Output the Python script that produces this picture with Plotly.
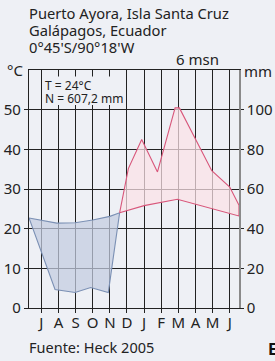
import plotly.graph_objects as go

# ---- data ----
month_labels = ["J", "A", "S", "O", "N", "D", "J", "F", "M", "A", "M", "J"]
month_pos = list(range(12))

# arid period (temperature above precipitation curve)
arid_temp_x = [-0.72, 0.90, 1.97, 3.00, 4.00, 4.57]
arid_temp_c = [22.7, 21.4, 21.5, 22.2, 23.1, 24.0]
arid_prec_x = [-0.72, 0.80, 1.97, 2.88, 3.91, 4.57]
arid_prec_mm = [45.4, 9.3, 7.8, 10.3, 7.8, 48.0]

# humid period (precipitation above temperature curve)
humid_prec_x = [4.57, 5.08, 5.86, 6.78, 7.81, 8.06, 9.95, 11.00, 11.54]
humid_prec_mm = [48.0, 70.3, 85.0, 68.6, 100.9, 100.9, 69.2, 61.0, 51.8]
humid_temp_x = [4.57, 6.00, 7.94, 11.54]
humid_temp_c = [24.0, 25.8, 27.4, 23.2]

temp_ticks = [0, 10, 20, 30, 40, 50]
prec_ticks = [0, 20, 40, 60, 80, 100]
MM_PER_C = 2  # Walter-Lieth scale: 10 °C = 20 mm

title_lines = ["Puerto Ayora, Isla Santa Cruz", "Galápagos, Ecuador", "0°45'S/90°18'W"]

# ---- layout geometry ----
W, H = 275, 361
L, R, T, B = 29, 36, 70, 53
PW, PH = W - L - R, H - T - B
BG = "#eef0f5"
FONT = "Noto Sans"
TXT = "#222222"
GRID = "#222222"


def px(x):
    return (x - L) / PW


def py(y):
    return (H - B - y) / PH


fig = go.Figure()

# arid polygon
ax = arid_temp_x + arid_prec_x[::-1]
ay = arid_temp_c + [v / MM_PER_C for v in arid_prec_mm[::-1]]
fig.add_trace(go.Scatter(x=ax, y=ay, mode="lines", fill="toself",
                         fillcolor="rgba(196,204,224,0.72)",
                         line=dict(color="#7b90b4", width=1.1),
                         hoverinfo="skip", showlegend=False))

# humid polygon
hx = humid_prec_x + humid_temp_x[::-1]
hy = [v / MM_PER_C for v in humid_prec_mm] + humid_temp_c[::-1]
fig.add_trace(go.Scatter(x=hx, y=hy, mode="lines", fill="toself",
                         fillcolor="rgba(252,226,232,0.72)",
                         line=dict(color="#d8567a", width=1.1),
                         hoverinfo="skip", showlegend=False))

# invisible trace on second axis to activate it
fig.add_trace(go.Scatter(x=[month_pos[0]], y=[0], yaxis="y2", mode="markers",
                         marker=dict(opacity=0), hoverinfo="skip", showlegend=False))

fig.update_layout(
    width=W, height=H,
    margin=dict(l=L, r=R, t=T, b=B, autoexpand=False),
    paper_bgcolor=BG, plot_bgcolor=BG,
    font=dict(family=FONT, color=TXT, size=15),
    xaxis=dict(range=[-0.72, 11.54], tickvals=month_pos, ticktext=month_labels,
               showgrid=True, gridcolor=GRID, gridwidth=1.2,
               showline=True, linecolor=GRID, linewidth=1.3, mirror=True,
               ticks="outside", ticklen=4, tickcolor=GRID, tickwidth=1.2,
               ticklabelstandoff=-3,
               zeroline=False, tickfont=dict(size=15), fixedrange=True, automargin=False),
    yaxis=dict(range=[0, 60], tickvals=temp_ticks,
               showgrid=True, gridcolor=GRID, gridwidth=1.2,
               showline=True, linecolor=GRID, linewidth=1.3,
               ticks="outside", ticklen=4, tickcolor=GRID, tickwidth=1.2,
               zeroline=False, tickfont=dict(size=15), fixedrange=True, automargin=False),
    yaxis2=dict(range=[0, 60 * MM_PER_C], tickvals=prec_ticks, overlaying="y", side="right",
                showgrid=False, showline=True, linecolor="#8a8a8a", linewidth=1.6,
                ticks="outside", ticklen=3, tickcolor=GRID, tickwidth=1.2,
                zeroline=False, tickfont=dict(size=15), fixedrange=True, automargin=False),
)

# info box background (hides grid lines)
fig.add_shape(type="rect", xref="paper", yref="paper",
              x0=px(43), x1=px(121), y0=py(105), y1=py(76.5),
              fillcolor=BG, line=dict(width=0), layer="above")

ann = []
for i, line in enumerate(title_lines):
    ann.append(dict(text=line, x=px(27), y=py([13.5, 30.5, 47.5][i]), xanchor="left",
                    yanchor="middle", font=dict(size=14.7)))
ann.append(dict(text="6 msn", x=px(174), y=py(59.5), xanchor="left", yanchor="middle", font=dict(size=15)))
ann.append(dict(text="°C", x=px(5), y=py(70), xanchor="left", yanchor="middle", font=dict(size=15)))
ann.append(dict(text="mm", x=px(242), y=py(71), xanchor="left", yanchor="middle", font=dict(size=15)))
ann.append(dict(text="T = 24°C", x=px(42.5), y=py(85), xanchor="left", yanchor="middle", font=dict(size=12)))
ann.append(dict(text="N = 607,2 mm", x=px(42.5), y=py(98.5), xanchor="left", yanchor="middle", font=dict(size=12)))
ann.append(dict(text="Fuente: Heck 2005", x=px(27), y=py(347), xanchor="left", yanchor="middle", font=dict(size=14.5)))
ann.append(dict(text="<b>E</b>", x=px(266), y=py(349), xanchor="left", yanchor="middle", font=dict(size=16, color="#111111")))
for a in ann:
    a.update(xref="paper", yref="paper", showarrow=False)
fig.update_layout(annotations=ann)

fig.write_html("out.html", config={"displayModeBar": False},
               post_script="document.body.style.margin='0';document.body.style.overflow='hidden';")
